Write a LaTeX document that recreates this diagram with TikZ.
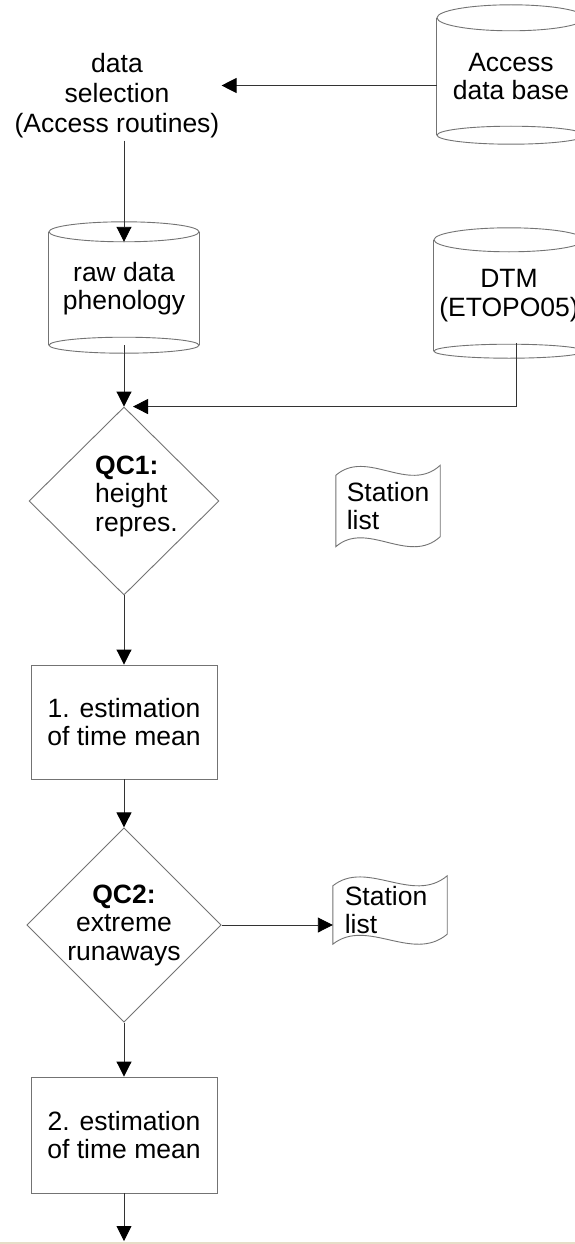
\documentclass[tikz,border=0pt]{standalone}
\usepackage{fontspec}
\setmainfont{Liberation Sans}
\usetikzlibrary{shapes.geometric,arrows.meta,calc}
\newcommand\mycyl[4]{%
  \draw[shapeline] (#1.north) ellipse [x radius=#2, y radius=#3];
  \draw[shapeline] (#1.south) ellipse [x radius=#2, y radius=#4];
  \draw[shapeline] (#1.north west) -- (#1.south west) (#1.north east) -- (#1.south east);}
\newcommand\mytape[2]{%
  \draw[shapeline] ($(#1.north west)+(0,5)$) .. controls ($(#1.north west)+(0.3*#2,-22)$) and ($(#1.north west)+(0.7*#2,24)$) .. ($(#1.north east)+(0,-5)$)
    -- ($(#1.south east)+(0,-5)$) .. controls ($(#1.south west)+(0.7*#2,24)$) and ($(#1.south west)+(0.3*#2,-22)$) .. ($(#1.south west)+(0,5)$) -- cycle;}
\begin{document}
\begin{tikzpicture}[x=1pt,y=-1pt,
  every node/.style={font=\fontsize{26.5}{28.5}\selectfont, inner sep=0pt, align=center},
  shapeline/.style={draw=black!55, line width=0.9pt},
  conn/.style={draw=black!80, line width=0.9pt},
  arr/.style={conn, -{Triangle[length=15pt,width=15pt,color=black]}},
  body/.style={minimum width=#1, rectangle},
  procbox/.style={rectangle, shapeline, minimum width=186, minimum height=#1},
  decision/.style={diamond, shapeline, minimum width=190, minimum height=188}
]
\clip (0,0) rectangle (575,1244);
\fill[white] (0,0) rectangle (575,1244);

% cylinders
\node[body=148, minimum height=117] (access) at (511,76.5) {Access\\data base};
\mycyl{access}{74}{13}{9}
\node[body=150, minimum height=113] (raw) at (124,288.5) {raw data\\phenology};
\mycyl{raw}{75}{10}{8}
\node[body=150, minimum height=111] (dtm) at (509,295.5) {DTM\\(ETOPO05)};
\mycyl{dtm}{75}{12}{7}

% data selection
\node[font=\fontsize{26.5}{30}\selectfont, inner sep=2pt] (sel) at (117,96) {data\\selection\\(Access routines)};

% decisions
\node[decision] (qc1) at (124,501) {};
\node[anchor=west, align=left] (qc1t) at ([xshift=-29pt,yshift=5pt]qc1.center) {\textbf{QC1:}\\height\\repres.};
\node[decision, minimum width=188, minimum height=186] (qc2) at (124,925) {\textbf{QC2:}\\extreme\\runaways};

% process boxes
\node[procbox=114] (box1) at (124,722) {1. estimation\\of time mean};
\node[procbox=116] (box2) at (124,1135) {2. estimation\\of time mean};

% station lists
\node[rectangle, minimum width=104, minimum height=71, align=left] (sl1) at (388,506) {Station\\list};
\mytape{sl1}{104}
\node[rectangle, minimum width=114, minimum height=58, align=left] (sl2) at (390,910) {\hspace*{-8pt}Station\\\hspace*{-8pt}list};
\mytape{sl2}{114}

\coordinate (endpt) at (124,1241);

% connectors
\path ([yshift=-9pt]access.west) coordinate (aw);
\draw[arr] (aw) -- (aw -| sel.east);
\draw[arr] (sel.south -| raw.north) -- ([yshift=-10pt]raw.north);
\draw[arr] (raw.south) -- (qc1.north);
\draw[arr] ([xshift=7pt,yshift=8pt]dtm.south) |- ([xshift=9pt]qc1.north);
\draw[arr] (qc1.south) -- (box1.north);
\draw[arr] (box1.south) -- (qc2.north);
\draw[arr] (qc2.east) -- (qc2.east -| sl2.west);
\draw[arr] (qc2.south) -- (box2.north);
\draw[arr] (box2.south) -- (endpt);

% bottom edge line
\draw[draw={rgb,255:red,230;green,221;blue,200}, line width=2pt] (0,1243) -- (575,1243);
\end{tikzpicture}
\end{document}
